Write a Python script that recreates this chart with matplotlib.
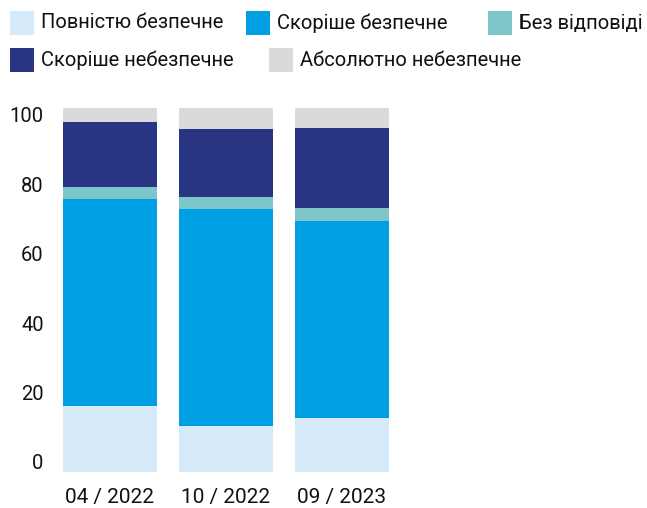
import numpy as np
import matplotlib
matplotlib.use("Agg")
import matplotlib.pyplot as plt
from matplotlib.patches import Rectangle

plt.rcParams['font.family'] = ['Roboto', 'DejaVu Sans']

# опитування: частки відповідей, %
periods = ["04 / 2022", "10 / 2022", "09 / 2023"]
series = ["Повністю безпечне", "Скоріше безпечне", "Без відповіді",
          "Скоріше небезпечне", "Абсолютно небезпечне"]
fully_safe = [18.0, 12.6, 14.8]
rather_safe = [57.0, 59.6, 54.0]
no_answer = [3.3, 3.3, 3.6]
rather_unsafe = [17.9, 18.7, 22.1]
absolutely_unsafe = [3.8, 5.8, 5.5]
values = [fully_safe, rather_safe, no_answer, rather_unsafe, absolutely_unsafe]
colors = ["#D5EBFA", "#009FE3", "#7CC5C9", "#283583", "#DADADA"]
y_ticks = [0, 20, 40, 60, 80, 100]

W, H = 647, 508
fig = plt.figure(figsize=(W / 100, H / 100), dpi=100)
ax = fig.add_axes([52 / W, 36.3 / H, 588 / W, 363.7 / H])

x = np.arange(len(periods))
bottom = np.zeros(len(periods))
for vals, col in zip(values, colors):
    ax.bar(x, vals, bottom=bottom, width=0.81, color=col, linewidth=0)
    bottom += np.array(vals)

ax.set_xlim(-0.5, 4.569)
ax.set_ylim(0, 100)
for s in ax.spines.values():
    s.set_visible(False)
ax.tick_params(length=0)
ax.set_xticks(x, periods, fontsize=15, color="#111111")
ax.tick_params(axis="x", pad=12)
# підписи осі трохи зміщені відносно шкали
ax.set_yticks([2.7 + 0.954 * t for t in y_ticks], [str(t) for t in y_ticks],
              fontsize=14.5, color="#111111")
ax.tick_params(axis="y", pad=6)

# легенда у два рядки
legend_rows = [(23, [10, 246, 488], [0, 1, 2]), (60, [10, 269], [3, 4])]
for yc, xs, idx in legend_rows:
    for xs0, i in zip(xs, idx):
        fig.patches.append(Rectangle((xs0 / W, 1 - (yc + 12) / H), 24 / W, 24 / H,
                                     transform=fig.transFigure, color=colors[i],
                                     linewidth=0))
        fig.text((xs0 + 31) / W, 1 - yc / H, series[i], fontsize=14.5,
                 va="center", ha="left", color="#111111")

fig.savefig("out.png", dpi=100)
